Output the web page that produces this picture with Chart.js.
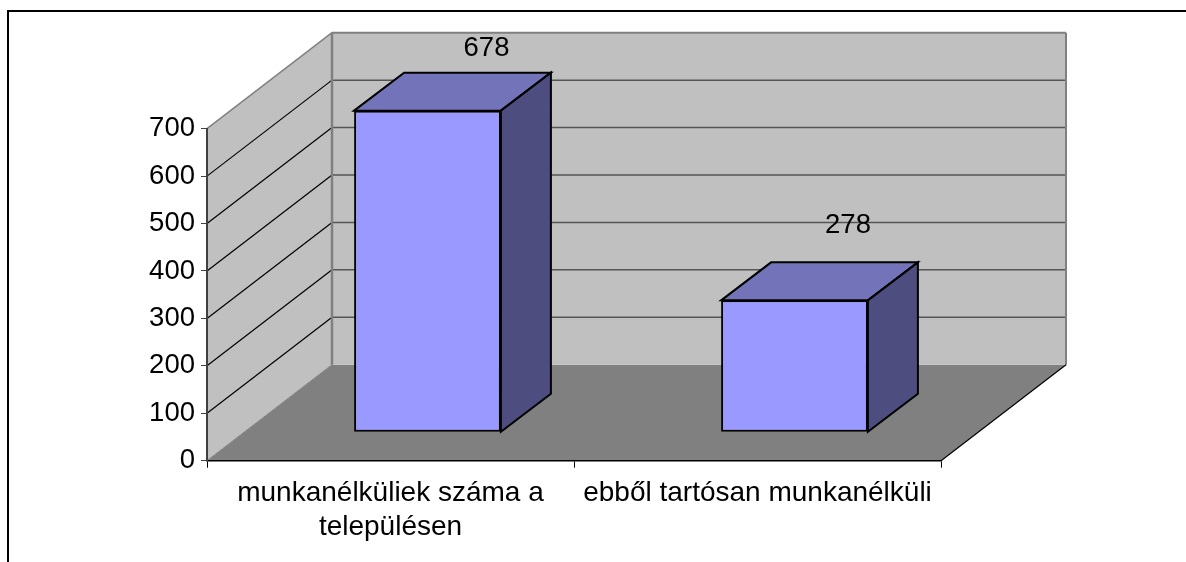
<!DOCTYPE html>
<html>
<head>
<meta charset="utf-8">
<style>
  html, body { margin: 0; padding: 0; background: #fff; overflow: hidden; }
  #frame { position: absolute; left: 7px; top: 10px; right: 0; bottom: 0; border-top: 2px solid #000; border-left: 2px solid #000; }
  #wrap { position: absolute; left: 0; top: 0; width: 1186px; height: 562px; }
</style>
</head>
<body>
<div id="frame"></div>
<div id="wrap"><canvas id="myChart"></canvas></div>
<script src="https://cdn.jsdelivr.net/npm/chart.js@4"></script>
<script>
const categories = [['munkanélküliek száma a', 'településen'], 'ebből tartósan munkanélküli'];
const values = [678, 278];
const valueLabels = ['678', '278'];
const yTicks = [0, 100, 200, 300, 400, 500, 600, 700];

// how far the back wall and the bars sit behind the front plane
const wall = {dx: 125, dy: -96};
const barShift = {dx: 37, dy: -28.5};
const barDepth = {dx: 50, dy: -38};
const labelShift = [{dx: 59, dy: -62.5}, {dx: 53.5, dy: -74.5}];
const fontName = '"Liberation Sans", Arial, sans-serif';

function poly(c, pts, fill, stroke, lw) {
  c.beginPath();
  c.moveTo(pts[0][0], pts[0][1]);
  for (var i = 1; i < pts.length; i++) c.lineTo(pts[i][0], pts[i][1]);
  c.closePath();
  if (fill) { c.fillStyle = fill; c.fill(); }
  if (stroke) { c.strokeStyle = stroke; c.lineWidth = lw; c.lineJoin = 'miter'; c.stroke(); }
}

function line(c, x1, y1, x2, y2, color, lw) {
  c.beginPath();
  c.moveTo(x1, y1);
  c.lineTo(x2, y2);
  c.strokeStyle = color;
  c.lineWidth = lw;
  c.stroke();
}

const room = {
  id: 'room',
  beforeDraw(chart) {
    const c = chart.ctx, a = chart.chartArea, y = chart.scales.y;
    const dx = wall.dx, dy = wall.dy;
    c.save();
    // floor, back wall, side wall
    poly(c, [[a.left, a.bottom], [a.right, a.bottom], [a.right + dx, a.bottom + dy], [a.left + dx, a.bottom + dy]], '#808080');
    poly(c, [[a.left + dx, a.top + dy], [a.right + dx, a.top + dy], [a.right + dx, a.bottom + dy], [a.left + dx, a.bottom + dy]], '#c0c0c0');
    poly(c, [[a.left, a.top], [a.left + dx, a.top + dy], [a.left + dx, a.bottom + dy], [a.left, a.bottom]], '#c0c0c0');
    for (var i = 0; i < yTicks.length; i++) {
      var py = y.getPixelForValue(yTicks[i]);
      if (yTicks[i] > 0 && yTicks[i] < 700) {
        line(c, a.left, py, a.left + dx, py + dy, '#000', 1.2);
        line(c, a.left + dx, py + dy, a.right + dx, py + dy, '#555', 1.5);
      }
    }
    // wall edges
    line(c, a.left, a.top, a.left + dx, a.top + dy, '#808080', 1.5);
    line(c, a.left + dx, a.top + dy, a.right + dx, a.top + dy, '#808080', 2);
    line(c, a.left + dx, a.top + dy, a.left + dx, a.bottom + dy, '#808080', 2.5);
    line(c, a.right + dx, a.top + dy, a.right + dx, a.bottom + dy, '#808080', 2);
    line(c, a.left, a.bottom, a.left + dx, a.bottom + dy, '#808080', 1);
    line(c, a.right, a.bottom, a.right + dx, a.bottom + dy, '#000', 1.2);
    c.restore();
  },
  beforeDatasetsDraw(chart) {
    chart.ctx.save();
    chart.ctx.translate(barShift.dx, barShift.dy);
  },
  afterDatasetsDraw(chart) {
    const c = chart.ctx;
    c.restore();
    const bars = chart.getDatasetMeta(0).data;
    c.save();
    bars.forEach(function (b, i) {
      var l = b.x - b.width / 2 + barShift.dx, r = b.x + b.width / 2 + barShift.dx;
      var t = b.y + barShift.dy, bot = b.base + barShift.dy;
      var ddx = barDepth.dx, ddy = barDepth.dy;
      poly(c, [[l, t], [l + ddx, t + ddy], [r + ddx, t + ddy], [r, t]], '#7373b9', '#000', 2);
      poly(c, [[r, t], [r + ddx, t + ddy], [r + ddx, bot + ddy], [r, bot]], '#4d4d80', '#000', 2);
      c.fillStyle = '#000';
      c.font = '27.5px ' + fontName;
      c.textAlign = 'center';
      c.textBaseline = 'middle';
      c.fillText(valueLabels[i], l + b.width / 2 + labelShift[i].dx, t + labelShift[i].dy);
    });
    c.restore();
  }
};

var ctx = document.getElementById('myChart').getContext('2d');
var myChart = new Chart(ctx, {
  type: 'bar',
  data: {
    labels: categories,
    datasets: [{
      data: values,
      backgroundColor: '#9999ff',
      borderColor: '#000',
      borderWidth: 2,
      borderSkipped: false,
      barPercentage: 0.4,
      categoryPercentage: 1,
      clip: false
    }]
  },
  options: {
    responsive: true,
    maintainAspectRatio: false,
    animation: false,
    layout: { padding: { left: 0, right: 245, top: 128.7, bottom: 0 } },
    plugins: { legend: { display: false }, tooltip: { enabled: false } },
    scales: {
      x: {
        afterFit(scale) { scale.height = 101.3; },
        grid: { drawOnChartArea: false, tickLength: 7, color: '#000' },
        border: { color: '#000', width: 1.5 },
        ticks: {
          color: '#000',
          maxRotation: 0,
          autoSkip: false,
          padding: 8,
          font: { family: fontName, size: 28, lineHeight: 1.23 }
        }
      },
      y: {
        min: 0,
        max: 700,
        afterFit(scale) { scale.width = 207; },
        afterBuildTicks(scale) { scale.ticks = yTicks.map(function (v) { return {value: v}; }); },
        grid: { drawOnChartArea: false, tickLength: 6, color: '#404040' },
        border: { color: '#404040', width: 2 },
        ticks: {
          color: '#000',
          padding: 6,
          font: { family: fontName, size: 27.5 }
        }
      }
    }
  },
  plugins: [room]
});
</script>
</body>
</html>
